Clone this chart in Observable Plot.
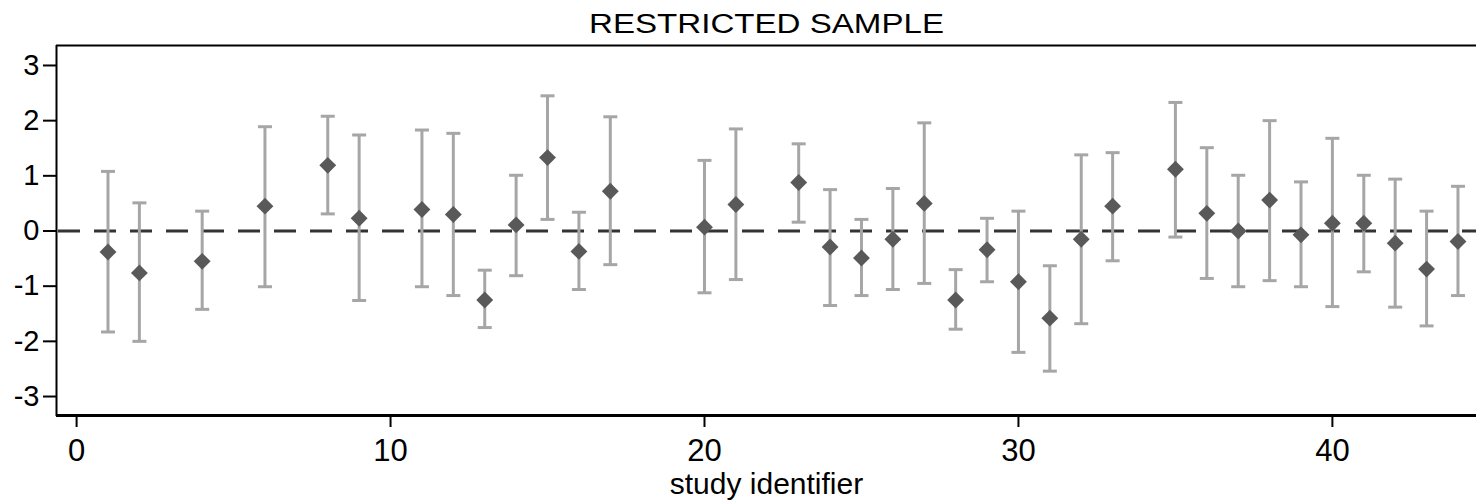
<!DOCTYPE html>
<html>
<head>
<meta charset="utf-8">
<script src="https://cdn.jsdelivr.net/npm/d3@7"></script>
<script src="https://cdn.jsdelivr.net/npm/@observablehq/plot@0.6"></script>
<style>
  html, body { margin: 0; padding: 0; background: #fff; }
  #chart svg { display: block; overflow: hidden; }
</style>
</head>
<body>
<div id="chart"></div>
<script>
// ---- data ----
const title = "RESTRICTED SAMPLE";
const xLabel = "study identifier";
const studyIds = [1, 2, 4, 6, 8, 9, 11, 12, 13, 14, 15, 16, 17, 20, 21, 23, 24, 25, 26, 27, 28, 29, 30, 31, 32, 33, 35, 36, 37, 38, 39, 40, 41, 42, 43, 44];
const estimates = [-0.38, -0.76, -0.55, 0.45, 1.19, 0.23, 0.39, 0.30, -1.25, 0.11, 1.33, -0.37, 0.72, 0.07, 0.48, 0.88, -0.29, -0.49, -0.15, 0.50, -1.25, -0.34, -0.92, -1.58, -0.15, 0.45, 1.12, 0.32, 0.00, 0.56, -0.07, 0.14, 0.14, -0.22, -0.69, -0.19];
const lower = [-1.83, -2.00, -1.42, -1.01, 0.31, -1.26, -1.01, -1.17, -1.75, -0.81, 0.21, -1.06, -0.61, -1.12, -0.88, 0.16, -1.35, -1.17, -1.06, -0.95, -1.78, -0.92, -2.20, -2.54, -1.68, -0.54, -0.11, -0.86, -1.01, -0.90, -1.01, -1.37, -0.74, -1.38, -1.72, -1.17];
const upper = [1.08, 0.51, 0.36, 1.89, 2.08, 1.74, 1.83, 1.77, -0.71, 1.01, 2.45, 0.34, 2.07, 1.28, 1.85, 1.58, 0.75, 0.21, 0.77, 1.96, -0.70, 0.23, 0.36, -0.63, 1.38, 1.42, 2.33, 1.51, 1.01, 2.00, 0.89, 1.68, 1.01, 0.94, 0.36, 0.81];
const xTicks = [0, 10, 20, 30, 40];
const yTicks = [-3, -2, -1, 0, 1, 2, 3];
const xDomain = [-0.64, 44.59];
const yDomain = [-3.362, 3.362];

const rows = studyIds.map((id, i) => ({id, est: estimates[i], lo: lower[i], hi: upper[i]}));

// horizontal cap symbol for error bars
const capSymbol = {
  draw(context, size) {
    const w = Math.sqrt(size) / 2;
    context.moveTo(-w, 0);
    context.lineTo(w, 0);
  }
};

const font = "'Liberation Sans', Arial, Helvetica, sans-serif";

const chart = Plot.plot({
  width: 1476,
  height: 502,
  marginLeft: 56,
  marginRight: 0,
  marginTop: 45,
  marginBottom: 86,
  style: {fontFamily: font, color: "#000", background: "#fff", overflow: "hidden"},
  x: {domain: xDomain, ticks: xTicks},
  y: {domain: yDomain, ticks: yTicks},
  marks: [
    // frame lines (left, top, bottom)
    Plot.ruleX([xDomain[0]], {stroke: "#000", strokeWidth: 2}),
    Plot.ruleY([yDomain[1]], {stroke: "#000", strokeWidth: 2}),
    Plot.ruleY([yDomain[0]], {stroke: "#000", strokeWidth: 3, dy: -1}),
    // zero reference line
    Plot.ruleY([0], {stroke: "#333", strokeWidth: 3, strokeDasharray: "22,14", dx: 2}),
    // error bars
    Plot.ruleX(rows, {x: "id", y1: "lo", y2: "hi", stroke: "#a6a6a6", strokeWidth: 3}),
    Plot.dot(rows, {x: "id", y: "lo", symbol: capSymbol, r: 7.9, stroke: "#a6a6a6", strokeWidth: 3, fill: "none"}),
    Plot.dot(rows, {x: "id", y: "hi", symbol: capSymbol, r: 7.9, stroke: "#a6a6a6", strokeWidth: 3, fill: "none"}),
    // point estimates
    Plot.dot(rows, {x: "id", y: "est", symbol: "diamond2", r: 7.6, fill: "#595959", stroke: "none"}),
    // axes
    Plot.axisY({ticks: yTicks, tickSize: 13, tickPadding: 4, fontSize: 29, strokeWidth: 2, tickFormat: d => String(d), label: null, className: "y-ticks"}),
    Plot.axisX({ticks: xTicks, tickSize: 12, tickPadding: 11, fontSize: 31, strokeWidth: 2, tickFormat: d => String(d), label: null, dy: -1}),
    // title and x label
    Plot.text([title], {frameAnchor: "top", lineAnchor: "bottom", dy: -13, fontSize: 27, fill: "#000", className: "chart-title"}),
    Plot.text([xLabel], {frameAnchor: "bottom", lineAnchor: "bottom", dy: 77, fontSize: 30, fill: "#000"})
  ]
});

// the reference title is set in a wider face: stretch it to its measured width
d3.select(chart).selectAll(".chart-title text")
  .attr("textLength", 355)
  .attr("lengthAdjust", "spacingAndGlyphs");

document.getElementById("chart").appendChild(chart);
</script>
</body>
</html>
